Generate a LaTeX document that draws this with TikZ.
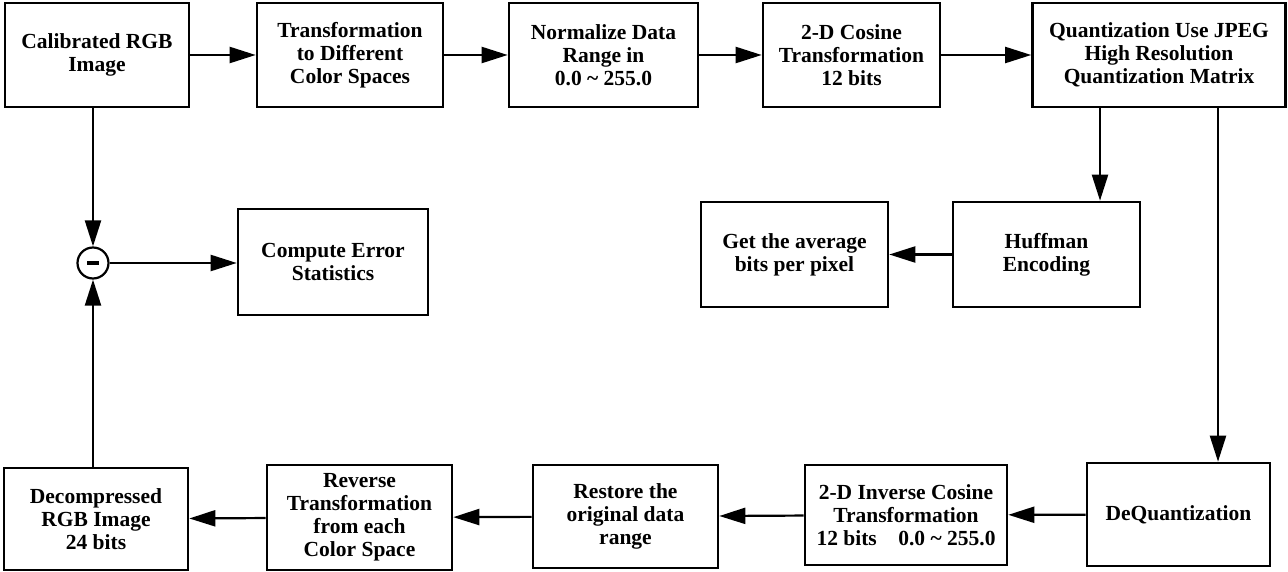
\documentclass[tikz,border=0pt]{standalone}
\usepackage{fontspec}
\setmainfont{Liberation Serif}
\usetikzlibrary{arrows.meta}
\begin{document}
\begin{tikzpicture}[x=1pt,y=-1pt,
  blk/.style={draw, line width=2.6pt, align=center, inner sep=2pt,
    font=\fontsize{21.5}{23}\selectfont\bfseries},
  arr/.style={line width=2.2pt, -{Triangle[length=26pt,width=16pt]}}]
\useasboundingbox (0,0) rectangle (1288,572);
% top row
\node[blk, minimum width=184pt, minimum height=104pt] (cal) at (97,55) {Calibrated RGB\\Image};
\node[blk, minimum width=186pt, minimum height=104pt] (trans) at (350,55) {Transformation\\to Different\\Color Spaces};
\node[blk, minimum width=189pt, minimum height=104pt] (norm) at (603.5,55) {Normalize Data\\Range in\\0.0 \textasciitilde\ 255.0};
\node[blk, minimum width=177pt, minimum height=104pt] (cos) at (851.5,55) {2-D Cosine\\Transformation\\12 bits};
\node[blk, minimum width=253pt, minimum height=104pt] (quant) at (1159,55) {Quantization Use JPEG\\High Resolution\\Quantization Matrix};
% middle row
\node[draw, line width=2.2pt, circle, minimum size=31pt, inner sep=0pt] (circ) at (93,263) {};
\node[blk, minimum width=190pt, minimum height=106pt] (comp) at (333,262) {Compute Error\\Statistics};
\node[blk, minimum width=187pt, minimum height=105pt] (avg) at (794.5,254.5) {Get the average\\bits per pixel};
\node[blk, minimum width=187pt, minimum height=105pt] (huff) at (1046.5,254.5) {Huffman\\Encoding};
% bottom row
\node[blk, minimum width=184pt, minimum height=102pt] (dec) at (96,519) {Decompressed\\RGB Image\\24 bits};
\node[blk, minimum width=185pt, minimum height=105pt] (rev) at (359.5,517.5) {Reverse\\Transformation\\from each\\Color Space};
\node[blk, minimum width=185pt, minimum height=103pt] (rest) at (625.5,516.5) {Restore the\\original data\\range};
\node[blk, minimum width=202pt, minimum height=100pt] (inv) at (906,515) {2-D Inverse Cosine\\Transformation\\12 bits\quad 0.0 \textasciitilde\ 255.0};
\node[blk, minimum width=183pt, minimum height=103pt] (deq) at (1178.5,514.5) {DeQuantization};
% minus sign in circle
\draw[line width=4pt] ([xshift=-6pt]circ.center) -- ([xshift=6pt]circ.center);
\coordinate (qx) at (1100,0);
\coordinate (qd) at (1218,0);
% connectors
\draw[arr] (cal) -- (trans);
\draw[arr] (trans) -- (norm);
\draw[arr] (norm) -- (cos);
\draw[arr] (cos) -- (quant);
\draw[arr] (quant.south -| qx) -- (huff.north -| qx);
\draw[arr] (quant.south -| qd) -- (deq.north -| qd);
\draw[arr] (huff) -- (avg);
\draw[arr] (deq) -- (inv);
\draw[arr] (inv) -- (rest);
\draw[arr] (rest) -- (rev);
\draw[arr] (rev) -- (dec);
\draw[arr] (cal.south -| circ) -- (circ.north);
\draw[arr] (dec.north -| circ) -- (circ.south);
\draw[arr] (circ.east) -- (comp.west |- circ);
\end{tikzpicture}
\end{document}
